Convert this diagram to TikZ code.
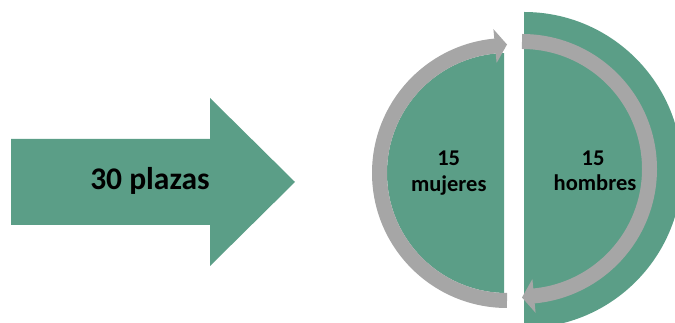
\documentclass[tikz,border=0pt]{standalone}
\usepackage{fontspec}
\setmainfont{Carlito}
\definecolor{grn}{RGB}{91,158,135}
\definecolor{gry}{RGB}{166,166,166}
\tikzset{
  bigtxt/.style={font=\bfseries\fontsize{31.5}{38}\selectfont, inner sep=0pt},
  lbltxt/.style={font=\bfseries\fontsize{22.5}{27}\selectfont, inner sep=0pt, anchor=base},
  ring/.style={gry, line width=15pt},
}
\begin{document}
\begin{tikzpicture}[x=1pt,y=1pt]
\useasboundingbox (0,0) rectangle (675,323);
\clip (0,0) rectangle (675,323);
% big block arrow
\fill[grn] (11,98) -- (210,98) -- (210,57) -- (295,141) -- (210,225) -- (210,184) -- (11,184) -- cycle;
\node[bigtxt] (plazas) at (150,142) {30 plazas};
% right large half disc
\fill[grn] (524,311) arc (90:-90:158) -- cycle;
% left half disc
\begin{scope}
  \clip (0,0) rectangle (504,323);
  \fill[grn] (507,150) circle (120);
\end{scope}
% left ring arrow
\draw[ring] (507,22.5) arc (270:95:127.5);
\fill[gry] ([shift={(507,150)}]95.4:144.5) -- ([shift={(507,150)}]90:128.5) -- ([shift={(507,150)}]95.4:110.5) -- cycle;
% right ring arrow
\draw[ring] (522,281.5) arc (90:-85:127.5);
\fill[gry] ([shift={(522,154)}]-84.6:144.5) -- ([shift={(522,154)}]-90:128.5) -- ([shift={(522,154)}]-84.6:110.5) -- cycle;
% labels
\node[lbltxt] (m15) at (448.7,157.3) {15};
\node[lbltxt] (muj) at (448.8,131.5) {mujeres};
\node[lbltxt] (h15) at (593,157.3) {15};
\node[lbltxt] (hom) at (595,132.5) {hombres};
\end{tikzpicture}
\end{document}
